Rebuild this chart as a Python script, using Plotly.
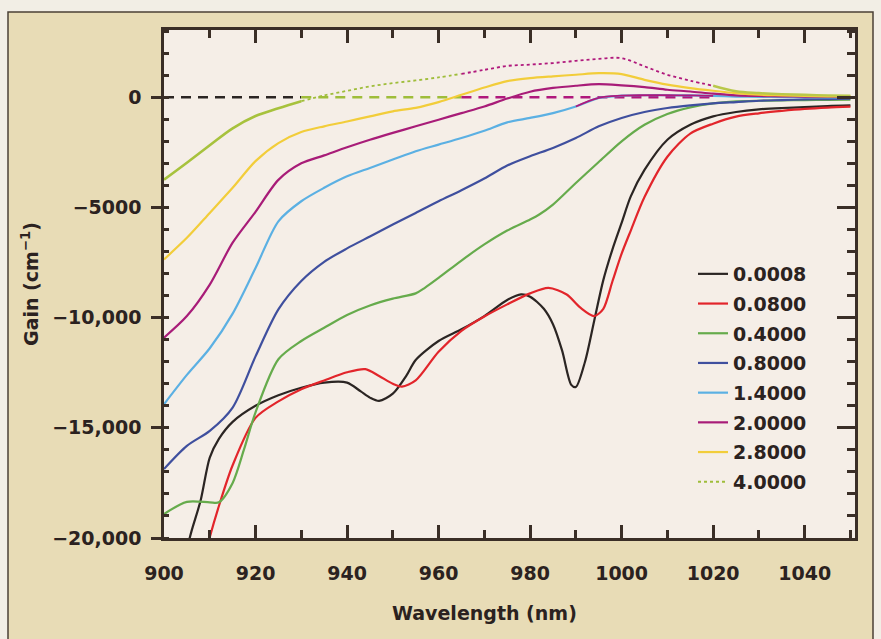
import plotly.graph_objects as go

# ---------------- data ----------------
WL_STD = [900, 905, 910, 915, 920, 925, 930, 935, 940, 945, 950, 955, 960, 965, 970,
          975, 980, 985, 990, 995, 1000, 1005, 1010, 1015, 1020, 1025, 1030, 1035,
          1040, 1045, 1050]

G_40 = [-3740, -2970, -2180, -1410, -850, -500, -180, 80, 290, 490, 640, 760, 900, 1060,
        1240, 1420, 1480, 1550, 1650, 1740, 1770, 1400, 1020, 750, 520, 270, 190, 140,
        110, 85, 70]
G_28 = [-7360, -6380, -5250, -4110, -2900, -2080, -1580, -1320, -1100, -870, -640, -480,
        -220, 110, 440, 730, 870, 950, 1020, 1090, 1050, 790, 570, 415, 295, 190, 115,
        85, 55, 40, 35]
G_20 = [-10910, -9930, -8500, -6600, -5200, -3750, -3000, -2640, -2270, -1930, -1620,
        -1320, -1020, -720, -420, -60, 250, 420, 520, 590, 540, 460, 340, 260, 160, 85,
        55, 40, 30, 25, 20]
G_14 = [-13930, -12600, -11390, -9820, -7750, -5630, -4720, -4110, -3590, -3210, -2830,
        -2450, -2150, -1850, -1520, -1140, -940, -720, -420, -30, 70, 90, 90, 80, 60,
        30, 15, 5, 0, -5, -10]
G_08 = [-16870, -15820, -15140, -14080, -11760, -9630, -8340, -7470, -6860, -6320, -5780,
        -5250, -4720, -4220, -3690, -3100, -2680, -2300, -1850, -1320, -940, -670, -490,
        -370, -280, -220, -160, -130, -100, -85, -70]

WL_04 = [900, 905, 910, 912, 915, 917.5, 920, 925, 930, 935, 940, 945, 950, 955, 957, 960,
         965, 970, 975, 980, 982, 985, 990, 995, 1000, 1005, 1010, 1015, 1020, 1025,
         1030, 1035, 1040, 1045, 1050]
G_04 = [-18910, -18360, -18380, -18380, -17500, -15970, -14300, -11890, -11060, -10460,
        -9880, -9450, -9140, -8900, -8650, -8200, -7410, -6680, -6050, -5550, -5320,
        -4870, -3890, -2940, -2000, -1250, -760, -460, -280, -190, -160, -145, -130,
        -120, -115]

WL_0008 = [904, 906, 908, 910, 912, 915, 920, 925, 930, 935, 940, 943, 945, 947, 950, 953,
           955, 960, 965, 970, 975, 978, 980, 983, 985, 987, 989, 990, 992, 994, 996, 998,
           1000, 1002, 1005, 1010, 1015, 1020, 1025, 1030, 1035, 1040, 1045, 1050]
G_0008 = [-21300, -19700, -18300, -16350, -15500, -14730, -14000, -13520, -13180, -12950,
          -12950, -13350, -13630, -13780, -13450, -12620, -11920, -11060, -10530, -9930,
          -9200, -8950, -9050, -9600, -10300, -11500, -13050, -13150, -12000, -10150,
          -8300, -6900, -5700, -4500, -3300, -1930, -1250, -870, -670, -550, -490, -450,
          -400, -370]

WL_008 = [908, 910, 912, 915, 920, 925, 930, 935, 940, 944, 947, 950, 952, 955, 960, 965,
          970, 975, 980, 984, 988, 991, 994, 996, 998, 1000, 1002, 1005, 1010, 1015, 1020,
          1025, 1030, 1035, 1040, 1045, 1050]
G_008 = [-21700, -19970, -18550, -16700, -14550, -13800, -13250, -12850, -12480, -12340,
         -12650, -13000, -13130, -12850, -11550, -10600, -9950, -9400, -8900, -8650, -8950,
         -9550, -9930, -9600, -8350, -7100, -6050, -4530, -2700, -1650, -1200, -880, -730,
         -620, -530, -470, -430]

LABELS = ["0.0008", "0.0800", "0.4000", "0.8000", "1.4000", "2.0000", "2.8000", "4.0000"]
COLORS = ["#2b2523", "#e2252b", "#66ab4c", "#3f4f9e", "#5bb0e3", "#a81c78", "#f2cd3a",
          "#a7c23d"]
MAGENTA = "#b0187c"

ZERO_BREAKS = [900, 930, 965, 1020]
ZERO_COLORS = ["#2b2523", "#9fbd3a", MAGENTA]

# ---------------- layout geometry ----------------
W, H = 881, 639
M_L, M_R, M_T, M_B = 164, 26, 30, 101
PW, PH = W - M_L - M_R, H - M_T - M_B


def px2x(px):
    return (px - M_L) / PW


def py2y(py):
    return (H - M_B - py) / PH


def seg(wl, g, lo, hi):
    pts = [(w, v) for w, v in zip(wl, g) if lo <= w <= hi]
    return [p[0] for p in pts], [p[1] for p in pts]


INK = "#2b2220"
FONT = dict(family="DejaVu Sans", size=19, color=INK, weight="bold")

fig = go.Figure()

# zero reference line (dashed, changing colour)
for i, c in enumerate(ZERO_COLORS):
    fig.add_trace(go.Scatter(x=[ZERO_BREAKS[i], ZERO_BREAKS[i + 1]], y=[0, 0], mode="lines",
                             line=dict(color=c, width=2.6, dash="10px,7px"),
                             showlegend=False, hoverinfo="skip"))

series = [(WL_0008, G_0008), (WL_008, G_008), (WL_04, G_04), (WL_STD, G_08),
          (WL_STD, G_14), (WL_STD, G_20), (WL_STD, G_28)]

for (wl, g), name, col in zip(series, LABELS[:7], COLORS[:7]):
    fig.add_trace(go.Scatter(x=wl, y=g, name=name, legendgroup=name, mode="lines",
                             line=dict(color=col, width=2.2, shape="spline", smoothing=0.8)))

# 4.0 curve, drawn in segments like the original print
x, y = seg(WL_STD, G_40, 930, 965)
fig.add_trace(go.Scatter(x=x, y=y, name=LABELS[7], legendgroup=LABELS[7], mode="lines",
                         line=dict(color="#9fbd3a", width=1.8, dash="dot", shape="spline")))
x, y = seg(WL_STD, G_40, 900, 930)
fig.add_trace(go.Scatter(x=x, y=y, legendgroup=LABELS[7], showlegend=False, mode="lines",
                         line=dict(color=COLORS[7], width=2.6, shape="spline")))
x, y = seg(WL_STD, G_40, 965, 1020)
fig.add_trace(go.Scatter(x=x, y=y, legendgroup=LABELS[7], showlegend=False, mode="lines",
                         line=dict(color=MAGENTA, width=1.8, dash="dot", shape="spline")))
x, y = seg(WL_STD, G_40, 1020, 1050)
fig.add_trace(go.Scatter(x=x, y=y, legendgroup=LABELS[7], showlegend=False, mode="lines",
                         line=dict(color="#b9c84a", width=2.4, shape="spline")))

# 1.4 curve turns magenta near the transparency point
x, y = seg(WL_STD, G_14, 990, 1020)
fig.add_trace(go.Scatter(x=x, y=y, legendgroup=LABELS[4], showlegend=False, mode="lines",
                         line=dict(color=MAGENTA, width=1.8, shape="spline")))

# invisible trace on the mirror axis (right-hand ticks)
fig.add_trace(go.Scatter(x=WL_STD, y=G_40, yaxis="y2", mode="lines", opacity=0,
                         showlegend=False, hoverinfo="skip"))

AX = "#3a2e26"
fig.update_layout(
    width=W, height=H,
    margin=dict(l=M_L, r=M_R, t=M_T, b=M_B),
    paper_bgcolor="#e8dcb6",
    plot_bgcolor="#f5eee7",
    font=FONT,
    showlegend=True,
    legend=dict(x=px2x(693), y=py2y(255), xanchor="left", yanchor="top",
                bgcolor="rgba(0,0,0,0)", font=dict(FONT, size=19),
                traceorder="grouped", tracegroupgap=2),
    xaxis=dict(range=[900, 1051], tick0=900, dtick=20, showgrid=False, zeroline=False,
               showline=True, linecolor=AX, linewidth=2.5, mirror="ticks",
               ticks="inside", ticklen=13, tickwidth=2.5, tickcolor=AX,
               minor=dict(ticks="inside", ticklen=8, dtick=10, tickwidth=2.5, tickcolor=AX),
               tickfont=FONT, ticklabelstandoff=16),
    yaxis=dict(range=[-20000, 3050], tick0=0, dtick=5000, showgrid=False, zeroline=False,
               showline=True, linecolor=AX, linewidth=2.5, mirror=True,
               ticks="outside", ticklen=10, tickwidth=2.5, tickcolor=AX,
               minor=dict(ticks="inside", ticklen=5, dtick=1000, tickwidth=2.5,
                          tickcolor=AX),
               exponentformat="none", tickfont=FONT, ticklabelstandoff=6,
               title=dict(text="Gain (cm<sup>−1</sup>)", font=FONT, standoff=9)),
    yaxis2=dict(overlaying="y", side="right", matches="y", range=[-20000, 3050],
                tick0=0, dtick=5000, showgrid=False, zeroline=False, showline=False,
                showticklabels=False, ticks="inside", ticklen=18, tickwidth=2.5,
                tickcolor=AX,
                minor=dict(ticks="inside", ticklen=8, dtick=1000, tickwidth=2.5,
                           tickcolor=AX)),
    annotations=[dict(text="Wavelength (nm)", x=970, xref="x", y=py2y(613), yref="paper",
                      xanchor="center", yanchor="middle", showarrow=False, font=FONT)],
    shapes=[
        dict(type="rect", xref="paper", yref="paper", x0=px2x(0), x1=px2x(8),
             y0=py2y(H), y1=py2y(0), fillcolor="#f2eee5", line=dict(width=0)),
        dict(type="rect", xref="paper", yref="paper", x0=px2x(0), x1=px2x(W),
             y0=py2y(12), y1=py2y(0), fillcolor="#f2eee5", line=dict(width=0)),
        dict(type="rect", xref="paper", yref="paper", x0=px2x(873), x1=px2x(W),
             y0=py2y(H), y1=py2y(0), fillcolor="#f2eee5", line=dict(width=0)),
        dict(type="rect", xref="paper", yref="paper", x0=px2x(8), x1=px2x(873),
             y0=py2y(H + 5), y1=py2y(12), line=dict(color="#4b4036", width=1.5)),
    ],
)

fig.write_html("out.html")
